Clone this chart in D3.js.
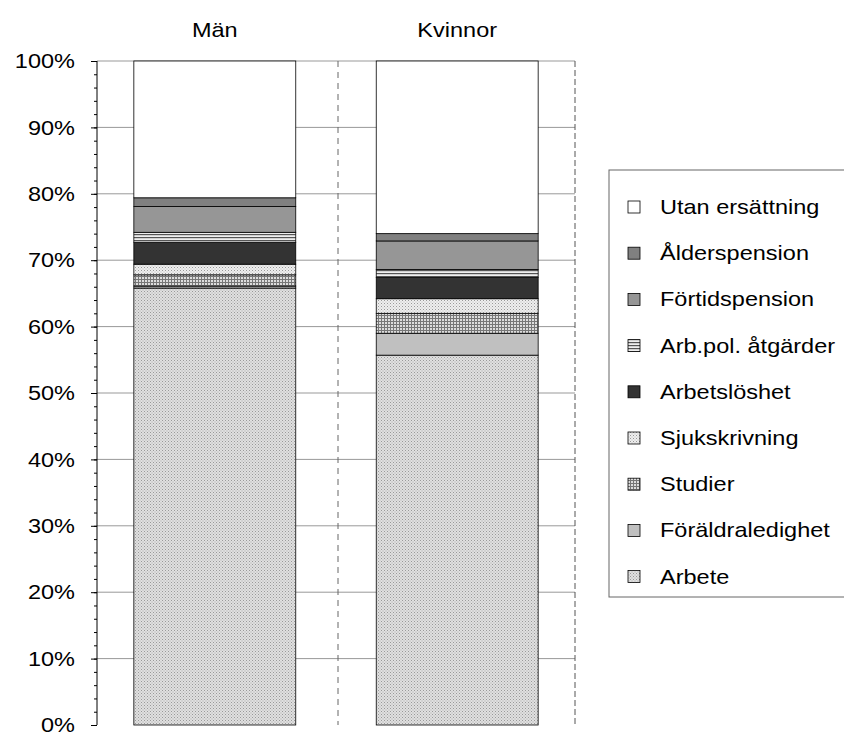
<!DOCTYPE html><html><head><meta charset="utf-8"><script src="https://cdn.jsdelivr.net/npm/d3@7"></script>
<style>body{margin:0;background:#fff}text{font-family:Arial,"Liberation Sans",sans-serif;fill:#000}</style></head><body><svg id="c" width="844" height="735"></svg>
<script>
const groups=["Män","Kvinnor"];
const seriesNames=["Arbete","Föräldraledighet","Studier","Sjukskrivning","Arbetslöshet","Arb.pol. åtgärder","Förtidspension","Ålderspension","Utan ersättning"];
const manValues=[65.8,0.3,1.7,1.6,3.3,1.5,3.9,1.3,20.6];
const kvinnorValues=[55.7,3.3,3.0,2.2,3.2,1.2,4.3,1.1,26.0];
const yTicks=[0,10,20,30,40,50,60,70,80,90,100];
const fills=["url(#pArb)","#c0c0c0","url(#pStu)","url(#pSju)","#333333","url(#pPol)","#969696","#808080","#ffffff"];
const svg=d3.select("#c");
const defs=svg.append("defs");
function pat(id,size,bg,draw){const p=defs.append("pattern").attr("id",id).attr("width",size).attr("height",size).attr("patternUnits","userSpaceOnUse");p.append("rect").attr("width",size).attr("height",size).attr("fill",bg);draw(p);}
pat("pArb",3,"#e0e0e0",p=>{p.append("rect").attr("x",0).attr("y",0).attr("width",1).attr("height",1).attr("fill","#999");p.append("rect").attr("x",1.5).attr("y",1.5).attr("width",1).attr("height",1).attr("fill","#aaa");});
pat("pSju",3,"#eeeeee",p=>{p.append("rect").attr("width",1).attr("height",1).attr("fill","#999");p.append("rect").attr("x",1.5).attr("y",1.5).attr("width",1).attr("height",1).attr("fill","#bbb");});
pat("pStu",3,"#ddd",p=>{p.append("rect").attr("width",3).attr("height",1).attr("fill","#777");p.append("rect").attr("width",1).attr("height",3).attr("fill","#777");});
pat("pPol",3,"#eee",p=>{p.append("rect").attr("width",3).attr("height",1.2).attr("fill","#555");});
const L=97,R=575,T=61,B=725;
const y=d3.scaleLinear().domain([0,100]).range([B,T]);
const x=d3.scaleBand().domain(groups).range([L,R]).paddingInner(0.332).paddingOuter(0.152);
svg.append("g").selectAll("line").data(yTicks.filter(d=>d>0)).join("line").attr("x1",L).attr("x2",R).attr("y1",d=>y(d)).attr("y2",d=>y(d)).attr("stroke","#999");
svg.append("line").attr("x1",338).attr("x2",338).attr("y1",T).attr("y2",B).attr("stroke","#666").attr("stroke-dasharray","6,5");
svg.append("line").attr("x1",R).attr("x2",R).attr("y1",T).attr("y2",B).attr("stroke","#555").attr("stroke-dasharray","6,3");
const data=[manValues,kvinnorValues];
const FS="21px", SX=1.12;
groups.forEach((g,i)=>{let c=0;const segs=data[i].map((v,j)=>{const s={y0:c,y1:c+v,j};c+=v;return s;});
 svg.append("g").selectAll("rect").data(segs).join("rect").attr("x",x(g)).attr("width",x.bandwidth()).attr("y",d=>y(d.y1)).attr("height",d=>y(d.y0)-y(d.y1)).attr("fill",d=>fills[d.j]).attr("stroke","#000").attr("stroke-width",0.8);
 svg.append("text").attr("transform",`translate(${x(g)+x.bandwidth()/2},37) scale(${SX},1)`).attr("text-anchor","middle").style("font-size",FS).text(g);
});
const ax=svg.append("g").attr("transform",`translate(${L},0)`).call(d3.axisLeft(y).tickValues(yTicks).tickFormat(d=>d+"%").tickSize(6).tickPadding(6));
ax.selectAll("text").style("font-size",FS).attr("x",null).attr("transform",`translate(-22,0) scale(${SX},1)`).style("font-family","Arial,'Liberation Sans',sans-serif");
ax.select(".domain").attr("d",`M-0,${T}V${B}`);
svg.append("g").attr("transform",`translate(${L},0)`).call(d3.axisLeft(y).ticks(50).tickSize(3).tickFormat("")).select(".domain").remove();
const lg=svg.append("g");
lg.append("rect").attr("x",609).attr("y",170).attr("width",240).attr("height",427).attr("fill","#fff").attr("stroke","#666");
const order=seriesNames.map((n,j)=>j).reverse();
order.forEach((j,k)=>{const yy=207+k*46.2;
 lg.append("rect").attr("x",628).attr("y",yy-6).attr("width",12).attr("height",12).attr("fill",fills[j]).attr("stroke","#000").attr("stroke-width",0.8);
 lg.append("text").attr("transform",`translate(660,${yy+7}) scale(${SX},1)`).style("font-size",FS).text(seriesNames[j]);});
</script></body></html>
